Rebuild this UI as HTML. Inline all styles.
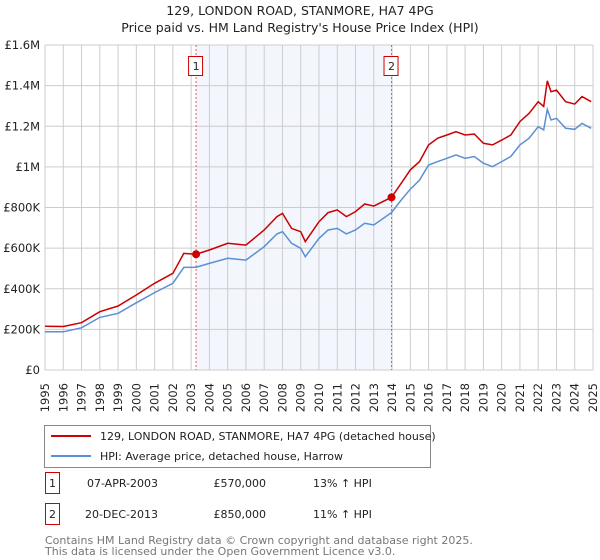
<!DOCTYPE html>
<html><head><meta charset="utf-8"><style>
body{margin:0;background:#fff;font-family:"Liberation Sans","DejaVu Sans",sans-serif;}
#wrap{position:relative;width:600px;height:560px;overflow:hidden}
</style></head><body>
<div id="wrap">
<svg id="chart" width="600" height="560" font-family="DejaVu Sans, Liberation Sans, sans-serif">
<text x="300" y="15" text-anchor="middle" font-size="12.5" fill="#222">129, LONDON ROAD, STANMORE, HA7 4PG</text>
<text x="300" y="32" text-anchor="middle" font-size="12.5" fill="#222">Price paid vs. HM Land Registry's House Price Index (HPI)</text>
<g id="grid"></g><g id="series"></g><g id="axes"></g>
<g>
<rect x="44.5" y="425.5" width="386" height="42" fill="#fff" stroke="#888"/>
<line x1="51" y1="436" x2="91" y2="436" stroke="#cc0000" stroke-width="2"/>
<text x="100" y="440" font-size="11" fill="#222">129, LONDON ROAD, STANMORE, HA7 4PG (detached house)</text>
<line x1="51" y1="456" x2="91" y2="456" stroke="#5b8fd4" stroke-width="2"/>
<text x="100" y="460" font-size="11" fill="#222">HPI: Average price, detached house, Harrow</text>
</g>
<g font-size="11" fill="#222">
<rect x="45.5" y="472.5" width="14" height="21" fill="#fff" stroke="#cc0000"/>
<text x="52.5" y="487" text-anchor="middle">1</text>
<text x="158" y="487" text-anchor="end">07-APR-2003</text>
<text x="266" y="487" text-anchor="end">£570,000</text>
<text x="313" y="487">13% ↑ HPI</text>
<rect x="45.5" y="503.5" width="14" height="21" fill="#fff" stroke="#cc0000"/>
<text x="52.5" y="518" text-anchor="middle">2</text>
<text x="158" y="518" text-anchor="end">20-DEC-2013</text>
<text x="266" y="518" text-anchor="end">£850,000</text>
<text x="313" y="518">11% ↑ HPI</text>
</g>
<text x="45" y="544" font-size="11" fill="#777">Contains HM Land Registry data © Crown copyright and database right 2025.</text>
<text x="45" y="555" font-size="11" fill="#777">This data is licensed under the Open Government Licence v3.0.</text>
</svg>
</div>
<script>
const yearTicks=[1995,1996,1997,1998,1999,2000,2001,2002,2003,2004,2005,2006,2007,2008,2009,2010,2011,2012,2013,2014,2015,2016,2017,2018,2019,2020,2021,2022,2023,2024,2025];
const valueTicks=[0,200000,400000,600000,800000,1000000,1200000,1400000,1600000];
const valueTickLabels=["£0","£200K","£400K","£600K","£800K","£1M","£1.2M","£1.4M","£1.6M"];
const dates=[1995,1996,1997,1998,1999,2000,2001,2002,2002.6,2003.27,2004,2005,2006,2007,2007.7,2008,2008.5,2009,2009.25,2010,2010.5,2011,2011.5,2012,2012.5,2013,2013.97,2014.5,2015,2015.5,2016,2016.5,2017,2017.5,2018,2018.5,2019,2019.5,2020,2020.5,2021,2021.5,2022,2022.3,2022.5,2022.7,2023,2023.5,2024,2024.4,2024.9];
const hpiValues=[188000,188000,208000,259000,279000,331000,381000,427000,505000,506000,525000,550000,541000,607000,670000,681000,624000,599000,558000,648000,689000,697000,670000,689000,722000,714000,775000,837000,890000,935000,1009000,1026000,1042000,1059000,1042000,1051000,1018000,1001000,1026000,1051000,1108000,1141000,1198000,1182000,1283000,1231000,1239000,1190000,1185000,1214000,1190000];
const priceValues=[215000,214000,233000,287000,315000,369000,427000,476000,574000,570000,591000,624000,615000,689000,755000,771000,697000,681000,632000,730000,775000,788000,755000,780000,817000,807000,850000,919000,985000,1026000,1108000,1141000,1157000,1173000,1157000,1162000,1116000,1108000,1132000,1157000,1223000,1264000,1321000,1297000,1424000,1370000,1378000,1321000,1309000,1346000,1321000];
const saleDates=[2003.27,2013.97];
const salePrices=[570000,850000];
const saleLabels=["1","2"];

const NS="http://www.w3.org/2000/svg";
const X0=45,X1=593,Y0=370,Y1=45;
const xs=d=>X0+(d-1995)/(2025-1995)*(X1-X0);
const ys=v=>Y0-v/1600000*(Y0-Y1);
function mk(tag,attrs,parent){const e=document.createElementNS(NS,tag);for(const k in attrs)e.setAttribute(k,attrs[k]);parent.appendChild(e);return e;}
const grid=document.getElementById('grid'),series=document.getElementById('series'),axes=document.getElementById('axes');
const shade=mk('rect',{x:xs(saleDates[0]),y:Y1,width:xs(saleDates[1])-xs(saleDates[0]),height:Y0-Y1,fill:'#eef3fc',opacity:0.7},grid);


yearTicks.forEach(y=>{
 const l=mk('line',{x1:xs(y),x2:xs(y),y1:Y1,y2:Y0,stroke:'#cccccc','stroke-width':1},grid);
 
 
 const t=mk('text',{transform:`translate(${xs(y)+4},383) rotate(-90)`,'text-anchor':'end','font-size':'11.5',fill:'#222'},axes);
 t.textContent=y;
 
 
});
valueTicks.forEach((v,i)=>{
 const l=mk('line',{x1:X0,x2:X1,y1:ys(v),y2:ys(v),stroke:'#cccccc','stroke-width':1},grid);
 
 
 const t=mk('text',{x:X0-5,y:ys(v)+4,'text-anchor':'end','font-size':'11.5',fill:'#222'},axes);
 t.textContent=valueTickLabels[i];
 
 
});
saleDates.forEach((d,i)=>{
 const l=mk('line',{x1:xs(d),x2:xs(d),y1:Y1,y2:Y0,stroke:'#e06060','stroke-width':1,'stroke-dasharray':'2,2'},grid);
 
 
 const r=mk('rect',{x:xs(d)-7.5,y:56.5,width:14,height:19,fill:'#fff',stroke:'#cc0000'},axes);
 
 
 const t=mk('text',{x:xs(d),y:70,'text-anchor':'middle','font-size':'11',fill:'#222'},axes);
 t.textContent=saleLabels[i];
 
 
});
const pts=arr=>arr.map((v,i)=>xs(dates[i]).toFixed(1)+','+ys(v).toFixed(1)).join(' ');
const hl=mk('polyline',{points:pts(hpiValues),fill:'none',stroke:'#5b8fd4','stroke-width':1.5},series);


const pl=mk('polyline',{points:pts(priceValues),fill:'none',stroke:'#cc0000','stroke-width':1.5},series);


saleDates.forEach((d,i)=>{
 const c=mk('circle',{cx:xs(d),cy:ys(salePrices[i]),r:4,fill:'#cc0000'},series);
 
 
});
</script>
</body></html>
